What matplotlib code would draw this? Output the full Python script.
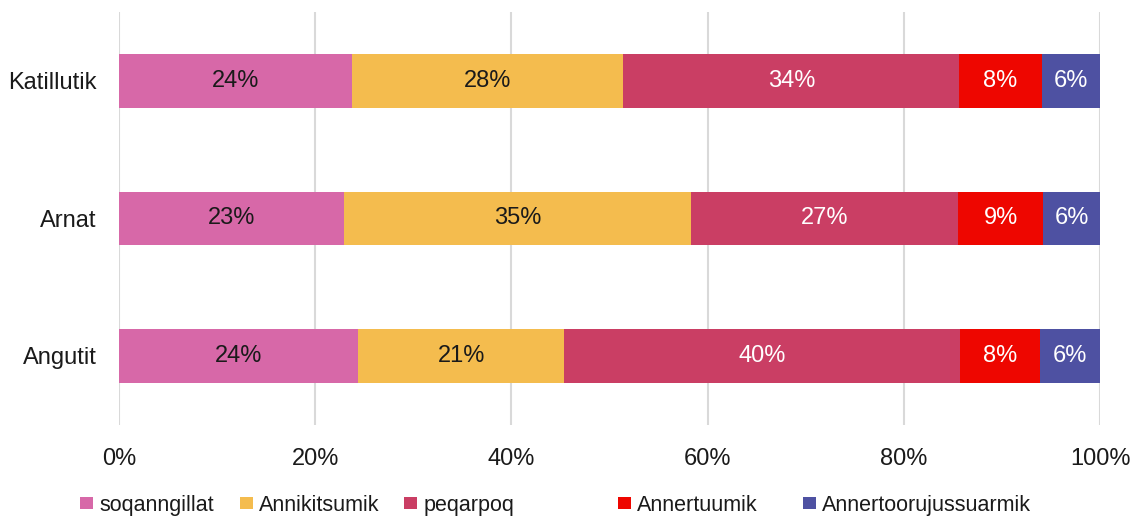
import matplotlib.pyplot as plt
import numpy as np
from matplotlib.ticker import PercentFormatter

plt.rcParams['font.family'] = ['Liberation Sans', 'DejaVu Sans']

# categories (top to bottom in the picture)
grupper = ["Katillutik", "Arnat", "Angutit"]
serier = ["soqanngillat", "Annikitsumik", "peqarpoq", "Annertuumik", "Annertoorujussuarmik"]
farver = ["#D768A8", "#F4BC4E", "#CA3E64", "#EE0600", "#4E51A2"]
tekstfarve = ["#1a1a1a", "#1a1a1a", "white", "white", "white"]

# share in percent per serie, order = grupper
soqanngillat = [23.75, 22.9, 24.4]
annikitsumik = [27.65, 35.4, 21.0]
peqarpoq = [34.25, 27.2, 40.3]
annertuumik = [8.4, 8.7, 8.2]
annertoorujussuarmik = [5.95, 5.8, 6.1]

data = [soqanngillat, annikitsumik, peqarpoq, annertuumik, annertoorujussuarmik]

# legend entry start positions (figure fraction), like the Excel layout
legend_x = [0.0706, 0.2118, 0.3566, 0.5455, 0.7087]

fig = plt.figure(figsize=(11.33, 5.18), dpi=100)
ax = fig.add_axes([0.105, 0.18, 0.866, 0.797])

y = np.arange(len(grupper))[::-1]
venstre = np.zeros(len(grupper))
handles = []
for navn, vaerdier, farve, tf in zip(serier, data, farver, tekstfarve):
    vaerdier = np.array(vaerdier)
    h = ax.barh(y, vaerdier, left=venstre, height=0.39, color=farve, label=navn, zorder=3)
    handles.append(h)
    for yi, v, l in zip(y, vaerdier, venstre):
        ax.text(l + v / 2, yi, f"{round(v):.0f}%", ha="center", va="center",
                color=tf, fontsize=17, zorder=4)
    venstre += vaerdier

ax.set_xlim(0, 100)
ax.set_ylim(-0.5, 2.5)
ax.set_xticks([0, 20, 40, 60, 80, 100])
ax.xaxis.set_major_formatter(PercentFormatter(decimals=0))
ax.set_yticks(y)
ax.set_yticklabels(grupper)
ax.tick_params(axis="both", length=0, labelsize=17, colors="#1a1a1a")
ax.tick_params(axis="x", pad=17)
ax.tick_params(axis="y", pad=16)
ax.grid(axis="x", color="#D9D9D9", linewidth=1.5, zorder=0)
for s in ax.spines.values():
    s.set_visible(False)

for h, navn, lx in zip(handles, serier, legend_x):
    leg = fig.legend([h], [navn], loc="center left", bbox_to_anchor=(lx, 0.025),
                     frameon=False, fontsize=15.5, handlelength=0.6, handleheight=0.43,
                     handletextpad=0.3, labelcolor="#1a1a1a", borderpad=0, borderaxespad=0)

fig.savefig("out.png", dpi=100)
